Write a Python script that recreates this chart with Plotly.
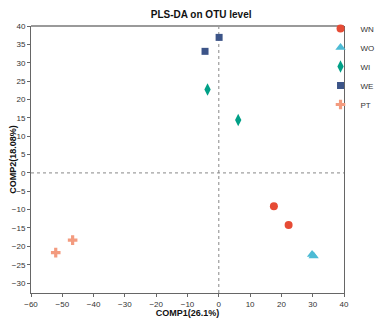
import plotly.graph_objects as go

groups = ["WN", "WO", "WI", "WE", "PT"]
comp1 = {
    "WN": [17.6, 22.3],
    "WO": [29.8, 30.3],
    "WI": [-3.6, 6.2],
    "WE": [-4.4, 0.1],
    "PT": [-52.1, -46.7],
}
comp2 = {
    "WN": [-9.1, -14.2],
    "WO": [-22.2, -22.6],
    "WI": [22.7, 14.4],
    "WE": [33.1, 36.9],
    "PT": [-21.7, -18.3],
}
colors = {"WN": "#E64B35", "WO": "#4DBBD5", "WI": "#00A087", "WE": "#3C5488", "PT": "#F39B7F"}
symbols = {"WN": "circle", "WO": "triangle-up", "WI": "diamond-tall", "WE": "square", "PT": "cross"}
sizes = {"WN": 8, "WO": 9, "WI": 9, "WE": 7, "PT": 8}

fig = go.Figure()
for g in groups:
    fig.add_trace(go.Scatter(
        x=comp1[g], y=comp2[g], mode="markers", name=g,
        marker=dict(color=colors[g], symbol=symbols[g], size=sizes[g], line=dict(width=0)),
    ))

fig.add_shape(type="line", xref="x", yref="paper", x0=0, x1=0, y0=0, y1=1,
              line=dict(color="#888888", width=1, dash="dot"), layer="below")
fig.add_shape(type="line", xref="paper", yref="y", x0=0, x1=1, y0=0, y1=0,
              line=dict(color="#888888", width=1, dash="dot"), layer="below")
# top frame line (lighter, thicker)
fig.add_shape(type="line", xref="paper", yref="paper", x0=0, x1=1, y0=1, y1=1,
              line=dict(color="#9a9a9a", width=2))

axis_common = dict(
    showgrid=False, zeroline=False, showline=True, linecolor="#666666", linewidth=1,
    ticks="outside", ticklen=3, tickcolor="#666666",
    tickfont=dict(family="Liberation Sans, Arial", size=8, color="#333333"),
)
fig.update_xaxes(range=[-60, 40], dtick=10, tick0=-60, mirror=False,
                 title=dict(text="<b>COMP1(26.1%)</b>", font=dict(family="Liberation Sans, Arial", size=9, color="#111111"), standoff=1),
                 **axis_common)
fig.update_yaxes(range=[-32.7, 40], dtick=5, tick0=-30, mirror=True,
                 title=dict(text="<b>COMP2(18.08%)</b>", font=dict(family="Liberation Sans, Arial", size=9, color="#111111"), standoff=3),
                 **axis_common)

fig.update_layout(
    width=375, height=310,
    margin=dict(l=23, r=39, t=18, b=25, autoexpand=False),
    paper_bgcolor="white", plot_bgcolor="white",
    title=dict(text="<b>PLS-DA on OTU level</b>", x=0.515, xanchor="center", y=0.98, yanchor="middle",
               font=dict(family="Liberation Sans, Arial", size=10, color="#111111")),
    legend=dict(x=0.925, y=1.045, xanchor="left", yanchor="top",
                font=dict(family="Liberation Sans, Arial", size=8, color="#333333"),
                itemwidth=30, tracegroupgap=0, bgcolor="rgba(0,0,0,0)", borderwidth=0),
    showlegend=True,
)

fig.write_html("out.html")
